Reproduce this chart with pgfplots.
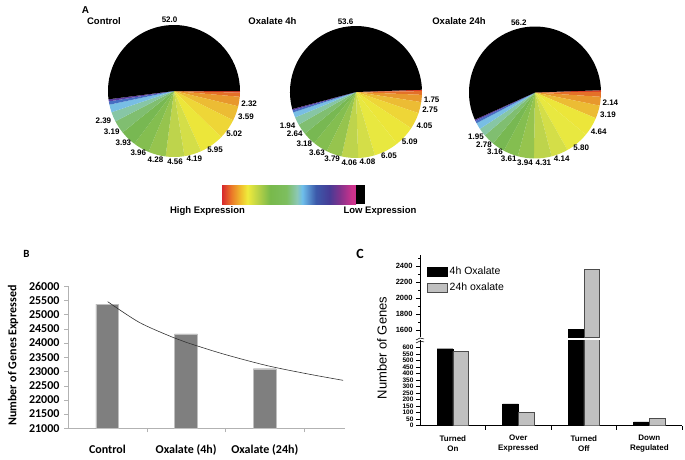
\documentclass[border=0pt]{standalone}
\usepackage{pgfplots}
\usepackage{pgfplotstable}
\pgfplotsset{compat=1.18}
\usepackage{fontspec}
\setmainfont{Liberation Sans}
\newfontfamily\calib{Carlito}

% pie / colour bar palette
\definecolor{s0}{RGB}{218,62,40}
\definecolor{s1}{RGB}{228,112,40}
\definecolor{c1}{RGB}{232,152,45}
\definecolor{c2}{RGB}{236,188,52}
\definecolor{c3}{RGB}{238,214,55}
\definecolor{c4}{RGB}{236,230,58}
\definecolor{c4b}{RGB}{232,232,64}
\definecolor{c5}{RGB}{212,222,72}
\definecolor{c6}{RGB}{190,212,76}
\definecolor{c7}{RGB}{150,196,78}
\definecolor{c8}{RGB}{132,190,80}
\definecolor{c9}{RGB}{120,184,82}
\definecolor{c10}{RGB}{128,190,112}
\definecolor{c11}{RGB}{135,198,165}
\definecolor{lb}{RGB}{120,190,228}
\definecolor{bl}{RGB}{70,110,195}
\definecolor{pu}{RGB}{90,60,160}
\definecolor{barB}{RGB}{127,127,127}
\definecolor{barC}{RGB}{192,192,192}

\definecolor{k0}{RGB}{215,40,45}
\definecolor{k1}{RGB}{235,120,40}
\definecolor{k2}{RGB}{240,190,45}
\definecolor{k3}{RGB}{240,235,60}
\definecolor{k4}{RGB}{185,210,70}
\definecolor{k5}{RGB}{120,185,75}
\definecolor{k6}{RGB}{125,190,95}
\definecolor{k7}{RGB}{140,200,180}
\definecolor{k8}{RGB}{110,190,235}
\definecolor{k9}{RGB}{60,90,170}
\definecolor{k10}{RGB}{70,60,150}
\definecolor{k11}{RGB}{130,50,140}
\definecolor{k12}{RGB}{205,50,140}
\pgfdeclarehorizontalshading{spectrum}{50bp}{color(0bp)=(k0); color(25bp)=(k0);
  color(28.5bp)=(k1); color(32bp)=(k2); color(34.5bp)=(k3); color(38.5bp)=(k4);
  color(43bp)=(k5); color(49bp)=(k6); color(53bp)=(k7); color(55bp)=(k8);
  color(60bp)=(k9); color(65bp)=(k10); color(69bp)=(k11); color(73.5bp)=(k12);
  color(75bp)=(k12); color(100bp)=(k12)}

\pgfplotsset{/pgf/number format/assume math mode=true, /pgf/number format/1000 sep={}}

% panel B: genes expressed
\pgfplotstableread{
x y
0 25360
1 24314
2 23093
}\exprtable

% panel C: gene changes
\pgfplotstableread{
x four twentyfour
0 589 569
1 168 100
2 1610 2360
3 30 57
}\genetable

% value/colour/show-label
\newcommand\piechart[4]{%
  \xdef\pieang{#3}%
  \foreach \v/\c/\s in {#4}{%
    \pgfmathsetmacro\angB{\pieang-3.6*\v}%
    \pgfmathsetmacro\angM{(\pieang+\angB)/2}%
    \pgfmathsetmacro\angN{mod(\angM+540,360)}%
    \fill[\c] (#1,#2) -- ++(\pieang:66pt) arc[start angle=\pieang,end angle=\angB,radius=66pt] -- cycle;
    \ifnum\s=1
      \path (#1,#2) ++(\angM:67pt) node[anchor=\angN,inner sep=1pt,font=\bfseries\fontsize{8}{9}\selectfont]{\v};
    \fi
    \xdef\pieang{\angB}%
  }}

\begin{document}
\begin{tikzpicture}[x=1pt,y=1pt]

% ---- panel A ----
\node[font=\bfseries\fontsize{10}{12}\selectfont] at (85.5,449) {A};
\node[font=\bfseries\fontsize{9.5}{11}\selectfont] at (104,438) {Control};
\node[font=\bfseries\fontsize{9.5}{11}\selectfont] at (272.5,438) {Oxalate 4h};
\node[font=\bfseries\fontsize{9.5}{11}\selectfont] at (459,437.5) {Oxalate 24h};

\piechart{174}{368}{0}{0.4/s0/0, 1.0/s1/0, 2.32/c1/1, 3.59/c2/1, 5.02/c3/1, 5.95/c4/1,
  4.19/c5/1, 4.56/c6/1, 4.28/c7/1, 3.96/c8/1, 3.93/c9/1, 3.19/c10/1, 2.39/c11/1,
  1.9/lb/0, 0.8/bl/0, 0.52/pu/0, 52.0/black/1}
\piechart{356}{367}{2}{0.35/s0/0, 0.9/s1/0, 1.75/c1/1, 2.75/c2/1, 4.05/c3/1, 5.09/c4/1,
  6.05/c4b/1, 4.08/c5/1, 4.06/c6/1, 3.79/c7/1, 3.63/c8/1, 3.18/c9/1, 2.64/c10/1,
  1.94/c11/1, 1.3/lb/0, 0.5/bl/0, 0.34/pu/0, 53.6/black/1}
\piechart{535}{366.5}{2}{0.4/s0/0, 1.2/s1/0, 2.14/c1/1, 3.19/c2/1, 4.64/c4/1, 5.80/c4b/1,
  4.14/c5/1, 4.31/c6/1, 3.94/c7/1, 3.61/c8/1, 3.16/c9/1, 2.78/c10/1, 1.95/c11/1,
  1.6/lb/0, 0.6/bl/0, 0.34/pu/0, 56.2/black/1}

\shade[shading=spectrum] (222,255) rectangle (356,274);
\fill[black] (356,255) rectangle (365,274);
\node[font=\bfseries\fontsize{9.5}{11}\selectfont] at (207.5,248) {High Expression};
\node[font=\bfseries\fontsize{9.5}{11}\selectfont] at (380,247.5) {Low Expression};

% ---- panel B ----
\node[font=\calib\bfseries\fontsize{11}{12}\selectfont] at (26.5,205.5) {B};
\begin{axis}[at={(68pt,30.7pt)}, anchor=south west, scale only axis,
    width=277pt, height=142.3pt,
    xmin=-0.5, xmax=3.02, ymin=21000, ymax=26000,
    axis x line*=bottom, axis y line*=left,
    axis line style={draw=black!30}, tick style={draw=black!30},
    tick align=outside, major tick length=4pt,
    ytick={21000,21500,...,26000}, scaled y ticks=false,
    tick label style={font=\calib\bfseries\fontsize{12}{12}\selectfont},
    xtick={0.5,1.5,2.5},
    xticklabels={Control,Oxalate (4h),Oxalate (24h)},
    xticklabel style={xshift=-39.25pt, yshift=-9pt},
    yticklabel style={xshift=-1pt}]
  \addplot[ybar, bar width=22.7pt, fill=barB, draw=black!25] table[x=x,y=y] {\exprtable};
  \addplot[black!80, line width=0.6pt, smooth] coordinates {
    (0.004,25451) (0.408,24719) (0.832,24196) (1.002,24021) (1.468,23616)
    (2.022,23208) (2.531,22919) (2.997,22685)};
\end{axis}
\node[rotate=90, font=\calib\bfseries\fontsize{12}{14}\selectfont] at (13,103.5) {Number of Genes Expressed};

% ---- panel C ----
\node[font=\calib\bfseries\fontsize{14}{15}\selectfont] at (360,205) {C};
\pgfplotsset{cstyle/.style={scale only axis, width=262pt, xmin=-0.5, xmax=3.5,
    ybar=0pt, bar width=15.7pt, axis y line*=left, tick align=outside,
    major tick length=4pt, minor tick length=2pt,
    axis line style={black, line width=0.6pt}, tick style={black, line width=0.5pt}}}
\begin{axis}[cstyle, at={(420pt,33.3pt)}, anchor=south west, height=85.7pt,
    ymin=0, ymax=655.9, ytick={0,50,...,600},
    yticklabel style={font=\bfseries\fontsize{6.5}{6.5}\selectfont, xshift=1pt},
    axis x line*=bottom, major tick length=4pt,
    xtick={0.5,1.5,2.5,3.5},
    xticklabels={{Turned\\On},{Over\\Expressed},{Turned\\Off},{Down\\Regulated}},
    xticklabel style={align=center, xshift=-32.65pt, yshift=-2pt,
      font=\bfseries\fontsize{8}{10}\selectfont}]
  \addplot[fill=black, draw=black] table[x=x,y=four] {\genetable};
  \addplot[fill=barC, draw=black!70] table[x=x,y=twentyfour] {\genetable};
\end{axis}
% upper segment of the broken axis: only the Turned Off bars reach it
\begin{axis}[cstyle, at={(420pt,122pt)}, anchor=south west, height=82pt,
    ymin=1512.5, ymax=2537.5, ytick={1600,1800,...,2400},
    minor ytick={1700,1900,2100,2300,2500},
    axis x line=none,
    yticklabel style={font=\bfseries\fontsize{7.5}{8}\selectfont},
    legend image code/.code={\draw[#1] (0pt,-4.5pt) rectangle (20pt,4.5pt);},
    legend style={at={(rel axis cs:0.027,0.878)}, anchor=north west, draw=none,
      fill=none, inner sep=0pt, row sep=3pt,
      font=\fontsize{10.5}{12}\selectfont},
    legend cell align=left]
  \addplot[fill=black, draw=black] coordinates {(2,1610)};
  \addlegendentry{4h Oxalate}
  \addplot[fill=barC, draw=black!70] coordinates {(2,2360)};
  \addlegendentry{24h oxalate}
\end{axis}
\draw[black, line width=0.5pt] (416,116) -- (420,118) -- (424,117);
\draw[black, line width=0.5pt] (416,119) -- (420,121) -- (424,120);
\node[rotate=90, font=\fontsize{13}{15}\selectfont] at (382,111) {Number of Genes};

\pgfresetboundingbox
\path[use as bounding box] (0,0) rectangle (685,459);
\end{tikzpicture}
\end{document}
